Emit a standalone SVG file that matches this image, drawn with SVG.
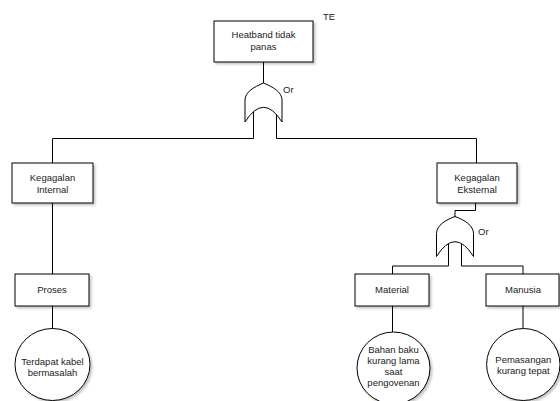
<svg xmlns="http://www.w3.org/2000/svg" width="560" height="401" viewBox="0 0 560 401">
<defs>
<filter id="sh" x="-10%" y="-10%" width="130%" height="130%">
<feDropShadow dx="2" dy="2" stdDeviation="0.8" flood-color="#000" flood-opacity="0.22"/>
</filter>
</defs>
<style>
.box{fill:#fff;stroke:#000;stroke-width:1;filter:url(#sh)}
.gate{fill:#fff;stroke:#000;stroke-width:1}
.conn{fill:none;stroke:#000;stroke-width:1}
text{font-family:"Liberation Sans",Arial,sans-serif;font-size:9.5px;fill:#222}
.c{text-anchor:middle}
</style>
<rect width="560" height="401" fill="#fff"/>
<g id="connectors">
<path class="conn" d="M263.5,62 V86"/>
<path class="conn" d="M253.5,108 V138.5 H52.5 V163"/>
<path class="conn" d="M276.5,108 V138.5 H476.5 V163"/>
<path class="conn" d="M52.5,203 V274"/>
<path class="conn" d="M52.5,306 V329"/>
<path class="conn" d="M475.5,203 V210.5 H455 V220"/>
<path class="conn" d="M448.5,240 V266 H392.5 V274"/>
<path class="conn" d="M461.5,240 V266 H523 V274"/>
<path class="conn" d="M392.5,306 V332"/>
<path class="conn" d="M523,306 V329"/>
</g>
<g id="te">
<rect class="box" x="214" y="21" width="99" height="41"/>
<text class="c" x="263.5" y="38.3">Heatband tidak</text>
<text class="c" x="263.5" y="50">panas</text>
<text x="323" y="20">TE</text>
</g>
<g id="gate1">
<path class="gate" d="M245,122 V100 C245,92 254,87 263.5,83 C273,87 282,92 282,100 V122 Q263.5,92.6 245,122 Z"/>
<text x="283" y="92.6">Or</text>
</g>
<g id="internal">
<rect class="box" x="12" y="163" width="81" height="40"/>
<text class="c" x="52.5" y="181.3">Kegagalan</text>
<text class="c" x="52.5" y="193.3">Internal</text>
</g>
<g id="eksternal">
<rect class="box" x="437" y="163" width="80" height="40"/>
<text class="c" x="477" y="180.8">Kegagalan</text>
<text class="c" x="477" y="192.8">Eksternal</text>
</g>
<g id="gate2">
<path class="gate" d="M436.5,256.5 V233.5 C436.5,225.5 445.5,220 455,216.5 C464.5,220 473.5,225.5 473.5,233.5 V256.5 Q455,226.9 436.5,256.5 Z"/>
<text x="478" y="234.5">Or</text>
</g>
<g id="proses">
<rect class="box" x="15" y="274" width="74" height="32"/>
<text class="c" x="52" y="292.8">Proses</text>
</g>
<g id="material">
<rect class="box" x="355" y="274" width="74" height="32"/>
<text class="c" x="392" y="292.8">Material</text>
</g>
<g id="manusia">
<rect class="box" x="486" y="274" width="73" height="32"/>
<text class="c" x="523" y="293">Manusia</text>
</g>
<g id="kabel">
<ellipse class="box" cx="52.5" cy="364.5" rx="37.5" ry="36"/>
<text class="c" x="52.5" y="365">Terdapat kabel</text>
<text class="c" x="52.5" y="376">bermasalah</text>
</g>
<g id="bahan">
<ellipse class="box" cx="393.5" cy="368" rx="36.5" ry="36"/>
<text class="c" x="393.5" y="352.8">Bahan baku</text>
<text class="c" x="393.5" y="364">kurang lama</text>
<text class="c" x="393.5" y="374.8">saat</text>
<text class="c" x="393.5" y="385.5">pengovenan</text>
</g>
<g id="pemasangan">
<ellipse class="box" cx="523.3" cy="364.5" rx="36.7" ry="36"/>
<text class="c" x="523.3" y="362.8">Pemasangan</text>
<text class="c" x="523.3" y="373.6">kurang tepat</text>
</g>
</svg>
